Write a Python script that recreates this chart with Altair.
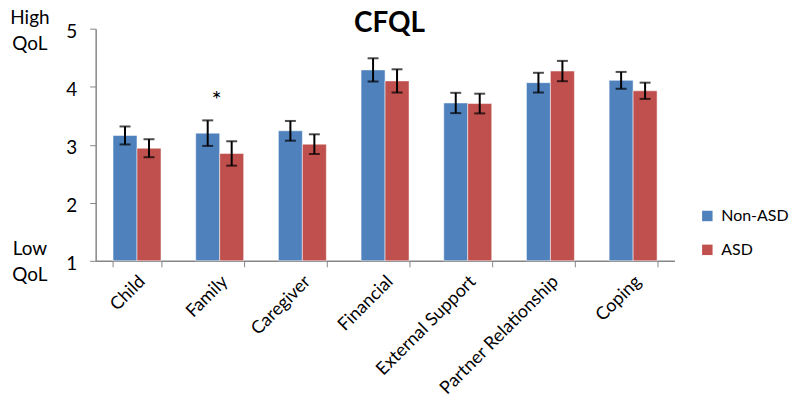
import altair as alt
import pandas as pd

categories = ["Child", "Family", "Caregiver", "Financial", "External Support",
              "Partner Relationship", "Coping"]
groups = ["Non-ASD", "ASD"]
non_asd = [3.16, 3.20, 3.24, 4.29, 3.72, 4.07, 4.11]
non_asd_err = [0.155, 0.22, 0.17, 0.20, 0.175, 0.17, 0.145]
asd = [2.94, 2.85, 3.01, 4.10, 3.71, 4.27, 3.93]
asd_err = [0.155, 0.21, 0.17, 0.20, 0.17, 0.175, 0.14]
colors = ["#4F81BD", "#C0504D"]
y_ticks = [1, 2, 3, 4, 5]

rows = []
for i, c in enumerate(categories):
    rows.append({"cat": c, "group": "Non-ASD", "val": non_asd[i],
                 "lo": non_asd[i] - non_asd_err[i], "hi": non_asd[i] + non_asd_err[i]})
    rows.append({"cat": c, "group": "ASD", "val": asd[i],
                 "lo": asd[i] - asd_err[i], "hi": asd[i] + asd_err[i]})
df = pd.DataFrame(rows)

FONT = "Lato"

x = alt.X("cat:N", sort=categories, title=None,
          scale=alt.Scale(paddingInner=0.42, paddingOuter=0.21),
          axis=alt.Axis(labelAngle=-45, labelAlign="right", labelBaseline="middle",
                        labelFontSize=18, labelColor="#000000", labelFont=FONT,
                        labelPadding=12, tickBand="extent", tickSize=6,
                        tickColor="#868686", domainColor="#868686", domainWidth=1.5,
                        labelOffset=5))
y_scale = alt.Scale(domain=[1, 5], zero=False, nice=False)
xo = alt.XOffset("group:N", sort=groups)

bars = alt.Chart(df).mark_bar(strokeWidth=1, strokeOpacity=0.5, stroke="#ffffff").encode(
    x=x,
    xOffset=xo,
    y=alt.Y("val:Q", scale=y_scale, title=None,
            axis=alt.Axis(values=y_ticks, format="d", labelFontSize=19,
                          labelColor="#000000", labelFont=FONT, tickSize=6,
                          tickColor="#868686", domainColor="#868686", domainWidth=1.5,
                          grid=False, labelPadding=13, labelOffset=3)),
    y2=alt.datum(1),
    color=alt.Color("group:N", sort=groups,
                    scale=alt.Scale(domain=groups, range=colors),
                    legend=alt.Legend(title=None, orient="none", legendX=606, legendY=180,
                                      symbolType="square", symbolSize=110,
                                      symbolStrokeWidth=0,
                                      labelFontSize=16, labelFont=FONT,
                                      labelColor="#000000", rowPadding=18,
                                      labelOffset=6)),
)

err = alt.Chart(df).mark_rule(color="#000000", strokeWidth=2).encode(
    x=x, xOffset=xo,
    y=alt.Y("lo:Q", scale=y_scale),
    y2="hi:Q",
)
cap_lo = alt.Chart(df).mark_tick(color="#000000", thickness=2, size=11).encode(
    x=x, xOffset=xo, y=alt.Y("lo:Q", scale=y_scale))
cap_hi = alt.Chart(df).mark_tick(color="#000000", thickness=2, size=11).encode(
    x=x, xOffset=xo, y=alt.Y("hi:Q", scale=y_scale))

star_df = pd.DataFrame({"cat": ["Family"], "val": [3.76], "t": ["*"]})
star = alt.Chart(star_df).mark_text(fontSize=24, font=FONT, color="#000000",
                                    dx=-3, baseline="middle").encode(
    x=alt.X("cat:N", sort=categories), y=alt.Y("val:Q", scale=y_scale), text="t:N")

ann_df = pd.DataFrame({"t": ["High\nQoL", "Low\nQoL"], "yv": [5.19, 1.2]})
ann = alt.Chart(ann_df).mark_text(fontSize=19, font=FONT, color="#000000",
                                  lineBreak="\n", align="center", baseline="middle",
                                  lineHeight=26).encode(
    x=alt.value(-66), y=alt.Y("yv:Q", scale=y_scale), text="t:N")

title_df = pd.DataFrame({"t": ["CFQL"]})
title = alt.Chart(title_df).mark_text(fontSize=28, fontWeight="bold", font=FONT,
                                      color="#000000", baseline="alphabetic",
                                      align="center").encode(
    x=alt.value(295), y=alt.value(3), text="t:N")

chart = alt.layer(bars, err, cap_lo, cap_hi, star, ann, title).properties(
    width=581, height=233,
    autosize=alt.AutoSizeParams(type="none"),
    padding={"left": 88, "top": 20, "right": 118, "bottom": 150},
).configure_view(stroke=None)

chart.save("out.html", embed_options={"renderer": "svg", "actions": False})
